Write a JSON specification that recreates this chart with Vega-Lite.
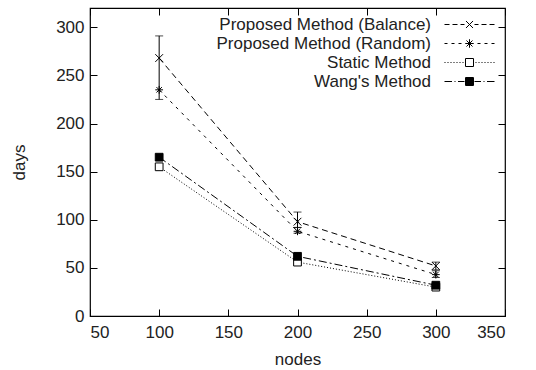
{
  "$schema": "https://vega.github.io/schema/vega-lite/v6.json",
  "width": 415,
  "height": 308,
  "padding": {"left": 10, "top": 7, "right": 5, "bottom": 2},
  "config": {
    "font": "Liberation Sans",
    "view": {"stroke": "black", "strokeWidth": 1.2},
    "axis": {
      "domain": false,
      "grid": false,
      "tickColor": "black",
      "tickSize": -7,
      "tickWidth": 1,
      "labelFontSize": 17,
      "labelColor": "#222",
      "labelPadding": 13,
      "titleFontSize": 17,
      "titleFontWeight": "normal",
      "titleColor": "#222"
    },
    "legend": {
      "labelFontSize": 17,
      "labelColor": "#222",
      "labelLimit": 400,
      "rowPadding": 1,
      "padding": 0
    }
  },
  "data": {
    "values": [
      {"method": "Proposed Method (Balance)", "nodes": 100, "days": 268, "lo": 225, "hi": 291},
      {"method": "Proposed Method (Balance)", "nodes": 200, "days": 98, "lo": 92, "hi": 108},
      {"method": "Proposed Method (Balance)", "nodes": 300, "days": 52, "lo": 48, "hi": 56},
      {"method": "Proposed Method (Random)", "nodes": 100, "days": 235},
      {"method": "Proposed Method (Random)", "nodes": 200, "days": 88, "lo": 86, "hi": 92},
      {"method": "Proposed Method (Random)", "nodes": 300, "days": 43, "lo": 40, "hi": 47},
      {"method": "Static Method", "nodes": 100, "days": 155},
      {"method": "Static Method", "nodes": 200, "days": 56},
      {"method": "Static Method", "nodes": 300, "days": 30},
      {"method": "Wang's Method", "nodes": 100, "days": 165},
      {"method": "Wang's Method", "nodes": 200, "days": 62},
      {"method": "Wang's Method", "nodes": 300, "days": 32}
    ]
  },
  "resolve": {
    "axis": {"x": "independent", "y": "independent"},
    "scale": {"shape": "independent"},
    "legend": {"strokeDash": "independent"}
  },
  "layer": [
    {
      "mark": {"type": "line", "color": "black", "strokeWidth": 1},
      "encoding": {
        "x": {"field": "nodes", "type": "quantitative", "scale": {"domain": [50, 350], "nice": false},
              "axis": {"orient": "bottom", "values": [50, 100, 150, 200, 250, 300, 350], "title": "nodes", "labelPadding": 15, "titlePadding": 11}},
        "y": {"field": "days", "type": "quantitative", "scale": {"domain": [0, 320], "nice": false},
              "axis": {"orient": "left", "values": [0, 50, 100, 150, 200, 250, 300], "title": "days", "titlePadding": 27}},
        "detail": {"field": "method"},
        "strokeDash": {"field": "method", "type": "nominal", "legend": null,
          "scale": {"domain": ["Proposed Method (Balance)", "Proposed Method (Random)", "Static Method", "Wang's Method"],
                    "range": [[6, 4], [3, 5], [1, 2], [8, 3, 2, 3]]}}
      }
    },
    {
      "transform": [{"filter": "isValid(datum.lo)"}],
      "mark": {"type": "rule", "color": "black", "strokeWidth": 1},
      "encoding": {
        "x": {"field": "nodes", "type": "quantitative", "axis": null},
        "y": {"field": "lo", "type": "quantitative", "axis": null},
        "y2": {"field": "hi"}
      }
    },
    {
      "transform": [{"filter": "isValid(datum.lo)"}],
      "mark": {"type": "tick", "color": "black", "orient": "horizontal", "size": 8, "thickness": 1},
      "encoding": {
        "x": {"field": "nodes", "type": "quantitative", "axis": null},
        "y": {"field": "lo", "type": "quantitative", "axis": null}
      }
    },
    {
      "transform": [{"filter": "isValid(datum.lo)"}],
      "mark": {"type": "tick", "color": "black", "orient": "horizontal", "size": 8, "thickness": 1},
      "encoding": {
        "x": {"field": "nodes", "type": "quantitative", "axis": null},
        "y": {"field": "hi", "type": "quantitative", "axis": null}
      }
    },
    {
      "mark": {"type": "point", "filled": false, "color": "black", "stroke": "black", "strokeWidth": 1, "size": 60, "opacity": 1},
      "encoding": {
        "x": {"field": "nodes", "type": "quantitative",
              "axis": {"orient": "top", "values": [50, 100, 150, 200, 250, 300, 350], "labels": false, "title": null}},
        "y": {"field": "days", "type": "quantitative",
              "axis": {"orient": "right", "values": [0, 50, 100, 150, 200, 250, 300], "labels": false, "title": null}},
        "shape": {"field": "method", "type": "nominal", "legend": null,
          "scale": {"domain": ["Proposed Method (Balance)", "Proposed Method (Random)", "Static Method", "Wang's Method"],
                    "range": ["M-1,-1L1,1M-1,1L1,-1", "M-1,0L1,0M0,-1L0,1M-0.7,-0.7L0.7,0.7M-0.7,0.7L0.7,-0.7", "square", "square"]}},
        "fill": {"field": "method", "type": "nominal", "legend": null,
          "scale": {"domain": ["Proposed Method (Balance)", "Proposed Method (Random)", "Static Method", "Wang's Method"],
                    "range": ["transparent", "transparent", "white", "black"]}}
      }
    },
    {
      "transform": [{"filter": "false"}],
      "mark": {"type": "point", "filled": false, "color": "black", "strokeWidth": 1, "opacity": 1},
      "encoding": {
        "shape": {"field": "method", "type": "nominal",
          "scale": {"domain": ["Proposed Method (Balance)", "Proposed Method (Random)", "Static Method", "Wang's Method"],
                    "range": [
                      "M-3.125,0L-2.5,0M-2.125,0L-1.5,0M-1.125,0L-0.625,0M0.625,0L1.125,0M1.5,0L2.125,0M2.5,0L3.125,0M-0.44,-0.44L0.44,0.44M-0.44,0.44L0.44,-0.44",
                      "M-3.125,0L-2.75,0M-2.25,0L-1.875,0M-1.375,0L-1,0M1,0L1.375,0M1.875,0L2.25,0M2.75,0L3.125,0M-0.53,0L0.53,0M0,-0.53L0,0.53M-0.375,-0.375L0.375,0.375M-0.375,0.375L0.375,-0.375",
                      "M-3.125,0L-3,0M-2.75,0L-2.625,0M-2.375,0L-2.25,0M-2,0L-1.875,0M-1.625,0L-1.5,0M-1.25,0L-1.125,0M-0.875,0L-0.75,0M0.75,0L0.875,0M1.125,0L1.25,0M1.5,0L1.625,0M1.875,0L2,0M2.25,0L2.375,0M2.625,0L2.75,0M3,0L3.125,0M-0.5,-0.5L0.5,-0.5L0.5,0.5L-0.5,0.5Z",
                      "M-3.125,0L-2.1875,0M-1.875,0L-1.75,0M-1.4375,0L-0.625,0M0.625,0L1.4375,0M1.75,0L1.875,0M2.1875,0L3.125,0M-0.5,-0.5L0.5,-0.5L0.5,0.5L-0.5,0.5ZM-0.5,-0.375L0.5,-0.375M-0.5,-0.25L0.5,-0.25M-0.5,-0.125L0.5,-0.125M-0.5,0L0.5,0M-0.5,0.125L0.5,0.125M-0.5,0.25L0.5,0.25M-0.5,0.375L0.5,0.375"
                    ]},
          "legend": {"title": null, "orient": "top-right", "offset": 8, "labelAlign": "right", "labelOffset": -47,
                     "symbolSize": 256, "symbolStrokeColor": "black", "symbolStrokeWidth": 1, "symbolFillColor": "transparent", "symbolOpacity": 1}}
      }
    }
  ]
}
